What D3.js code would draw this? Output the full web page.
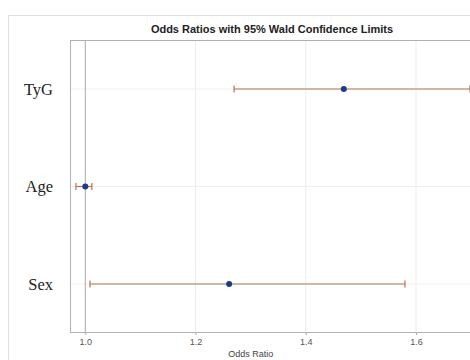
<!DOCTYPE html>
<html>
<head>
<meta charset="utf-8">
<script src="https://cdn.jsdelivr.net/npm/d3@7"></script>
<style>
  body { margin: 0; background: #fff; }
  svg { display: block; }
</style>
</head>
<body>
<svg width="470" height="360"></svg>
<script>
// values
const effects = ["TyG", "Age", "Sex"];
const estimates = [1.469, 1.0, 1.261];
const lowerCL = [1.270, 0.983, 1.0085];
const upperCL = [1.698, 1.012, 1.580];
const xTicks = [1.0, 1.2, 1.4, 1.6];

const width = 470, height = 360;
const margin = {top: 40, right: -10, bottom: 28, left: 70};

const svg = d3.select("svg");

// outer graph border
svg.append("rect")
  .attr("x", 8.5).attr("y", 15.5)
  .attr("width", 500).attr("height", 400)
  .attr("fill", "none")
  .attr("stroke", "#e0e0e0");

const x = d3.scaleLinear()
  .domain([1.0, 1.6])
  .range([85.3, 416]);

const y = d3.scalePoint()
  .domain(effects)
  .range([89, 284]);

const plotBottom = height - margin.bottom;

// gridlines
svg.append("g")
  .selectAll("line")
  .data(xTicks.slice(1))
  .join("line")
    .attr("x1", d => x(d)).attr("x2", d => x(d))
    .attr("y1", margin.top).attr("y2", plotBottom)
    .attr("stroke", "#ececec");

svg.append("g")
  .selectAll("line")
  .data(effects)
  .join("line")
    .attr("x1", margin.left).attr("x2", width)
    .attr("y1", d => y(d)).attr("y2", d => y(d))
    .attr("stroke", "#efefef");

// reference line at 1
svg.append("line")
  .attr("x1", x(1)).attr("x2", x(1))
  .attr("y1", margin.top).attr("y2", plotBottom)
  .attr("stroke", "#a8a8a8");

// plot frame
svg.append("rect")
  .attr("x", margin.left + 0.5).attr("y", margin.top + 0.5)
  .attr("width", 500).attr("height", plotBottom - margin.top)
  .attr("fill", "none")
  .attr("stroke", "#b0b0b0");

// x axis
const xAxis = svg.append("g")
  .attr("transform", `translate(0,${plotBottom})`)
  .call(d3.axisBottom(x).tickValues(xTicks).tickFormat(d3.format(".1f")).tickSize(3).tickPadding(4));
xAxis.select(".domain").remove();
xAxis.selectAll(".tick line").attr("stroke", "#b0b0b0");
xAxis.selectAll("text")
  .attr("font-family", "Arial, 'Liberation Sans', sans-serif")
  .attr("font-size", 9)
  .attr("fill", "#555");

svg.append("text")
  .attr("x", x(1.3)).attr("y", 357)
  .attr("text-anchor", "middle")
  .attr("font-family", "Arial, 'Liberation Sans', sans-serif")
  .attr("font-size", 9)
  .attr("fill", "#444")
  .text("Odds Ratio");

// y labels
svg.append("g")
  .selectAll("text")
  .data(effects)
  .join("text")
    .attr("x", 53)
    .attr("y", d => y(d))
    .attr("dy", "0.35em")
    .attr("text-anchor", "end")
    .attr("font-family", "'Liberation Serif', 'Times New Roman', serif")
    .attr("font-size", 16.5)
    .attr("fill", "#222")
    .text(d => d);

// title
svg.append("text")
  .attr("x", 272).attr("y", 33)
  .attr("text-anchor", "middle")
  .attr("font-family", "Arial, 'Liberation Sans', sans-serif")
  .attr("font-size", 11)
  .attr("font-weight", "bold")
  .attr("fill", "#222")
  .text("Odds Ratios with 95% Wald Confidence Limits");

// confidence limits
const ci = svg.append("g")
  .attr("stroke", "#b8734f")
  .attr("stroke-width", 1.2);

effects.forEach((e, i) => {
  const cy = y(e);
  ci.append("line")
    .attr("x1", x(lowerCL[i])).attr("x2", x(upperCL[i]))
    .attr("y1", cy).attr("y2", cy);
  [lowerCL[i], upperCL[i]].forEach(v => {
    ci.append("line")
      .attr("x1", x(v)).attr("x2", x(v))
      .attr("y1", cy - 3.5).attr("y2", cy + 3.5);
  });
});

// estimates
svg.append("g")
  .selectAll("circle")
  .data(effects)
  .join("circle")
    .attr("cx", (d, i) => x(estimates[i]))
    .attr("cy", d => y(d))
    .attr("r", 3)
    .attr("fill", "#1a3a8c");
</script>
</body>
</html>
